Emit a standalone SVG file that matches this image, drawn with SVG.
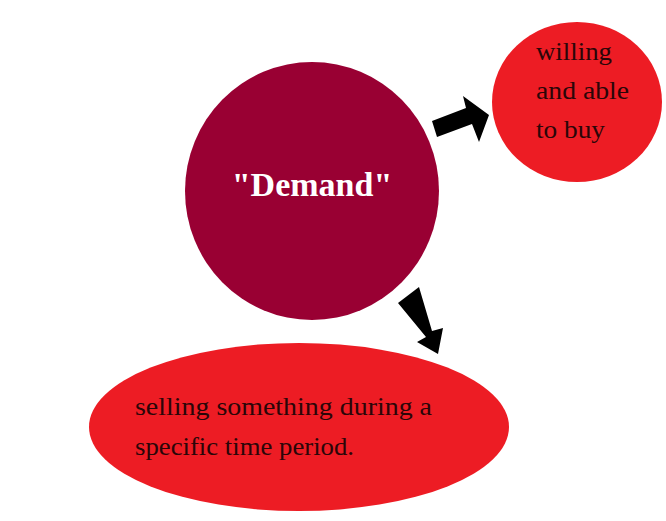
<svg xmlns="http://www.w3.org/2000/svg" width="666" height="521" viewBox="0 0 666 521">
<style>
.red{fill:#ED1C24}
.t{font-family:"Liberation Serif","Times New Roman",serif;font-size:26px;fill:#2a0608}
.arrow{fill:#000}
</style>
<rect width="666" height="521" fill="#fff"/>
<g id="demand">
<ellipse cx="312" cy="191" rx="127" ry="129" fill="#990033"/>
<text x="312" y="196" text-anchor="middle" font-family="Liberation Serif,serif" font-weight="bold" font-size="34" fill="#fff">"Demand"</text>
</g>
<g id="willing">
<ellipse class="red" cx="577" cy="102" rx="85" ry="80"/>
<text class="t" x="536" y="60" textLength="76" lengthAdjust="spacingAndGlyphs">willing</text>
<text class="t" x="536" y="99" textLength="93" lengthAdjust="spacingAndGlyphs">and able</text>
<text class="t" x="536" y="138" textLength="69" lengthAdjust="spacingAndGlyphs">to buy</text>
</g>
<g id="selling">
<ellipse class="red" cx="299" cy="427" rx="210" ry="84"/>
<text class="t" x="135" y="415" textLength="297" lengthAdjust="spacingAndGlyphs">selling something during a</text>
<text class="t" x="135" y="455" textLength="219" lengthAdjust="spacingAndGlyphs">specific time period.</text>
</g>
<g id="connectors">
<polygon class="arrow" points="432,121 466,108 463,96 489,115 479,142 472,124 437,137"/>
<polygon class="arrow" points="398,303 419,287 432,331 443,328 438,354 417,342 426,337"/>
</g>
</svg>
